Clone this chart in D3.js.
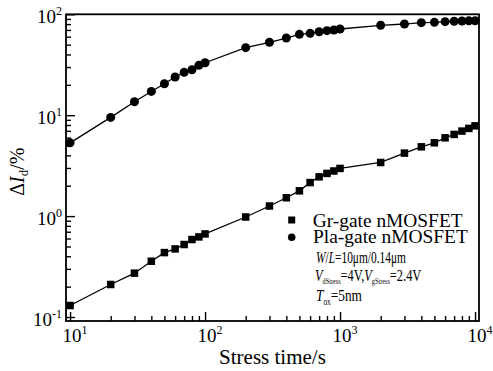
<!DOCTYPE html>
<html>
<head>
<meta charset="utf-8">
<script src="https://cdn.jsdelivr.net/npm/d3@7"></script>
<style>
  body { margin: 0; background: #fff; }
  svg { display: block; }
  text { font-family: "Liberation Serif", "Times New Roman", serif; fill: #000; }
</style>
</head>
<body>
<script>
// Stress times (s), shared by both devices
const stressTime = [10, 20, 30, 40, 50, 60, 70, 80, 90, 100,
                    200, 300, 400, 500, 600, 700, 800, 900, 1000,
                    2000, 3000, 4000, 5000, 6000, 7000, 8000, 9000, 10000];

// Drain-current degradation ΔId (%)
const grGate  = [0.13, 0.21, 0.272, 0.357, 0.435, 0.473, 0.523, 0.586, 0.622, 0.666,
                 0.98, 1.26, 1.52, 1.78, 2.15, 2.45, 2.65, 2.8, 2.97,
                 3.40, 4.21, 4.86, 5.33, 5.97, 6.45, 6.96, 7.40, 7.85];
const plaGate = [5.32, 9.51, 13.6, 17.2, 20.5, 23.9, 26.6, 28.2, 31.2, 33.1,
                 46.7, 52.8, 58.2, 63.3, 64.8, 67.2, 68.8, 69.9, 71.5,
                 77.8, 80.1, 82.6, 83.3, 84.5, 85.3, 85.8, 86.2, 86.4];

// Axis tick labels (powers of ten)
const xMajor = [10, 100, 1000, 10000];
const xExp   = ["1", "2", "3", "4"];
const yMajor = [0.1, 1, 10, 100];
const yExp   = ["-1", "0", "1", "2"];

const W = 493, H = 371;
const L = 66, R = 479, T = 14.3, B = 321;

const svg = d3.select("body").append("svg")
  .attr("width", W).attr("height", H);

const x = d3.scaleLog().domain([9.33, 10700]).range([L, R]);
const y = d3.scaleLog().domain([0.0913, 100]).range([B, T]);

// minor ticks 2..9 of each decade inside the domain
function minors(scale) {
  const [a, b] = scale.domain();
  const out = [];
  for (let e = Math.floor(Math.log10(a)); e <= Math.ceil(Math.log10(b)); e++) {
    for (let k = 2; k <= 9; k++) {
      const v = k * Math.pow(10, e);
      if (v >= a && v <= b) out.push(v);
    }
  }
  return out;
}

const axisStyle = g => {
  g.select(".domain").remove();
  g.selectAll(".tick line").attr("stroke", "#000").attr("stroke-width", 1.4);
  g.selectAll(".tick text").remove();
};

// inward ticks on bottom axis
svg.append("g").attr("transform", `translate(0,${B})`)
  .call(d3.axisBottom(x).tickValues(xMajor).tickSize(-9)).call(axisStyle);
svg.append("g").attr("transform", `translate(0,${B})`)
  .call(d3.axisBottom(x).tickValues(minors(x)).tickSize(-5)).call(axisStyle);
// inward ticks on left axis
svg.append("g").attr("transform", `translate(${L},0)`)
  .call(d3.axisLeft(y).tickValues(yMajor).tickSize(-9)).call(axisStyle);
svg.append("g").attr("transform", `translate(${L},0)`)
  .call(d3.axisLeft(y).tickValues(minors(y)).tickSize(-5)).call(axisStyle);

// frame
svg.append("rect")
  .attr("x", L).attr("y", T).attr("width", R - L).attr("height", B - T)
  .attr("fill", "none").attr("stroke", "#000").attr("stroke-width", 1.8);

// x tick labels
xMajor.forEach((v, i) => {
  const t = svg.append("text")
    .attr("x", x(v) - 7.5).attr("y", 342)
    .attr("font-size", 19);
  t.append("tspan").text("10");
  t.append("tspan").attr("font-size", 12).attr("dy", -8).text(xExp[i]);
});

// y tick labels
yMajor.forEach((v, i) => {
  const t = svg.append("text")
    .attr("x", 62).attr("y", y(v) + 8.7)
    .attr("text-anchor", "end")
    .attr("font-size", 19);
  t.append("tspan").text("10");
  t.append("tspan").attr("font-size", 12).attr("dy", -8).text(yExp[i]);
});

// axis titles
svg.append("text")
  .attr("x", (L + R) / 2).attr("y", 364)
  .attr("text-anchor", "middle")
  .attr("font-size", 21)
  .text("Stress time/s");

const yt = svg.append("text")
  .attr("transform", `translate(24,${(T + B) / 2 + 4}) rotate(-90)`)
  .attr("text-anchor", "middle")
  .attr("font-size", 20);
yt.append("tspan").text("Δ");
yt.append("tspan").attr("font-style", "italic").text("I");
yt.append("tspan").attr("font-size", 13).attr("dy", 4).text("d");
yt.append("tspan").attr("dy", -4).text("/%");

// series
const line = d3.line().x(d => x(d[0])).y(d => y(d[1]));
const grPts  = stressTime.map((t, i) => [t, grGate[i]]);
const plaPts = stressTime.map((t, i) => [t, plaGate[i]]);

[grPts, plaPts].forEach(pts => {
  svg.append("path").datum(pts)
    .attr("d", line)
    .attr("fill", "none").attr("stroke", "#000").attr("stroke-width", 1.3);
});

const sq = 7.5;
svg.append("g").selectAll("rect").data(grPts).join("rect")
  .attr("x", d => x(d[0]) - sq / 2).attr("y", d => y(d[1]) - sq / 2)
  .attr("width", sq).attr("height", sq).attr("fill", "#000");

svg.append("g").selectAll("circle").data(plaPts).join("circle")
  .attr("cx", d => x(d[0])).attr("cy", d => y(d[1]))
  .attr("r", 4.5).attr("fill", "#000");

// legend and annotation lines, each fitted to a given width
function richLine(px, py, width, size, parts, smallRatio = 0.6) {
  const g = svg.append("g");
  const t = g.append("text").attr("font-size", size);
  parts.forEach(p => {
    const s = t.append("tspan").text(p.t);
    if (p.i) s.attr("font-style", "italic");
    if (p.small) s.attr("font-size", size * smallRatio);
    if (p.dy) s.attr("dy", p.dy);
  });
  const bw = t.node().getBBox().width;
  g.attr("transform", `translate(${px},${py}) scale(${width / bw},1)`);
}

svg.append("rect").attr("x", 288.2).attr("y", 216.5).attr("width", 7).attr("height", 7).attr("fill", "#000");
svg.append("circle").attr("cx", 291.7).attr("cy", 237.3).attr("r", 3.8).attr("fill", "#000");

richLine(312.7, 226.7, 150, 18, [{t: "Gr-gate nMOSFET"}]);
richLine(313, 243.3, 155, 18, [{t: "Pla-gate nMOSFET"}]);
richLine(316, 263.3, 90, 17, [{t: "W", i: 1}, {t: "/"}, {t: "L", i: 1}, {t: "=10μm/0.14μm"}]);
richLine(315, 281, 107, 17, [
  {t: "V", i: 1}, {t: "dStress", small: 1, dy: 3}, {t: "=4V,", dy: -3},
  {t: "V", i: 1}, {t: "gStress", small: 1, dy: 3}, {t: "=2.4V", dy: -3}
], 0.5);
richLine(316, 300.7, 46, 17, [{t: "T", i: 1}, {t: "ox", small: 1, dy: 4}, {t: "=5nm", dy: -4}], 0.55);
</script>
</body>
</html>
